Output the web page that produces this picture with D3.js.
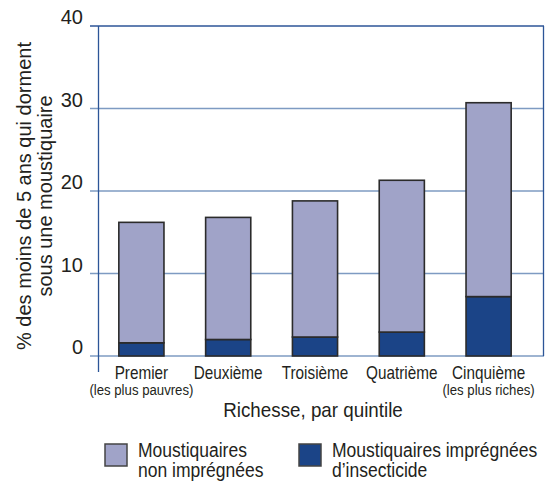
<!DOCTYPE html>
<html>
<head>
<meta charset="utf-8">
<script src="https://cdn.jsdelivr.net/npm/d3@7"></script>
<style>
  body { margin: 0; background: #fff; }
  text { font-family: "Liberation Sans", Arial, sans-serif; fill: #231f20; }
</style>
</head>
<body>
<svg id="chart" width="547" height="481"></svg>
<script>
// quintiles and values (percent)
const categories = ['Premier', 'Deuxième', 'Troisième', 'Quatrième', 'Cinquième'];
const subLabels = ['(les plus pauvres)', '', '', '', '(les plus riches)'];
const treated = [1.6, 2.0, 2.3, 2.9, 7.2];      // imprégnées d'insecticide
const total = [16.2, 16.8, 18.8, 21.3, 30.7];   // all nets
const untreated = total.map((t, i) => +(t - treated[i]).toFixed(1));
const yTicks = [0, 10, 20, 30, 40];

const lightFill = '#a0a3c8';
const darkFill = '#1b4487';
const gridColor = '#7e9bc2';
const axisColor = '#2c5597';

const svg = d3.select('#chart');

const x = d3.scaleBand()
  .domain(categories)
  .range([98, 532])
  .paddingInner(0.48)
  .paddingOuter(0.24);

const y = d3.scaleLinear()
  .domain([0, 40])
  .range([356, 26]);

// condensed text: font is squeezed horizontally with a scale
function label(parent, tx, ty, str, size, sx, anchor) {
  return parent.append('text')
    .attr('transform', `translate(${tx},${ty}) scale(${sx},1)`)
    .attr('text-anchor', anchor || 'start')
    .style('font-size', size + 'px')
    .text(str);
}

// gridlines
svg.append('g')
  .selectAll('line')
  .data(yTicks)
  .enter()
  .append('line')
  .attr('x1', 90)
  .attr('x2', 544)
  .attr('y1', d => y(d))
  .attr('y2', d => y(d))
  .attr('stroke', d => d === 40 ? axisColor : gridColor)
  .attr('stroke-width', 1.5);

// y axis + right border
svg.append('line')
  .attr('x1', 98.5).attr('x2', 98.5)
  .attr('y1', y(40)).attr('y2', 372)
  .attr('stroke', axisColor).attr('stroke-width', 1.3);
svg.append('line')
  .attr('x1', 543.5).attr('x2', 543.5)
  .attr('y1', y(40)).attr('y2', y(0))
  .attr('stroke', axisColor).attr('stroke-width', 1.3);

// tick labels
const tickG = svg.append('g');
yTicks.forEach(t => label(tickG, 83, y(t) - 2, t, 20, 1, 'end'));

// stacked bars
const stackData = categories.map((c, i) => ({ cat: c, treated: treated[i], untreated: untreated[i] }));
const series = d3.stack().keys(['treated', 'untreated'])(stackData);
const colors = { treated: darkFill, untreated: lightFill };

svg.append('g')
  .selectAll('g')
  .data(series)
  .enter()
  .append('g')
  .attr('fill', d => colors[d.key])
  .selectAll('rect')
  .data(d => d)
  .enter()
  .append('rect')
  .attr('x', d => x(d.data.cat))
  .attr('y', d => y(d[1]))
  .attr('width', x.bandwidth())
  .attr('height', d => y(d[0]) - y(d[1]))
  .attr('stroke', '#2b2b2b')
  .attr('stroke-width', 1.6);

// category labels
const catG = svg.append('g');
categories.forEach((c, i) => {
  const cx = x(c) + x.bandwidth() / 2;
  label(catG, cx, 379, c, 18, 0.85, 'middle');
  if (subLabels[i]) label(catG, cx, 395, subLabels[i], 15, 0.88, 'middle');
});

// x title
label(svg, 313, 417, 'Richesse, par quintile', 20, 0.94, 'middle');

// y title
const yTitle = svg.append('text')
  .attr('transform', 'translate(0,196) rotate(-90)')
  .attr('text-anchor', 'middle')
  .style('font-size', '20px');
yTitle.append('tspan').attr('x', 0).attr('y', 31).text('% des moins de 5 ans qui dorment');
yTitle.append('tspan').attr('x', 0).attr('y', 52).text('sous une moustiquaire');

// legend
const legendItems = [
  { color: lightFill, lines: ['Moustiquaires', 'non imprégnées'], x: 105 },
  { color: darkFill, lines: ['Moustiquaires imprégnées', 'd\u2019insecticide'], x: 299 }
];
const lg = svg.append('g');
legendItems.forEach(d => {
  lg.append('rect')
    .attr('x', d.x)
    .attr('y', 444)
    .attr('width', 22)
    .attr('height', 22)
    .attr('fill', d.color)
    .attr('stroke', '#444')
    .attr('stroke-width', 1.5);
  d.lines.forEach((l, i) => label(lg, d.x + 33, 457 + i * 20, l, 20, 0.875));
});
</script>
</body>
</html>
